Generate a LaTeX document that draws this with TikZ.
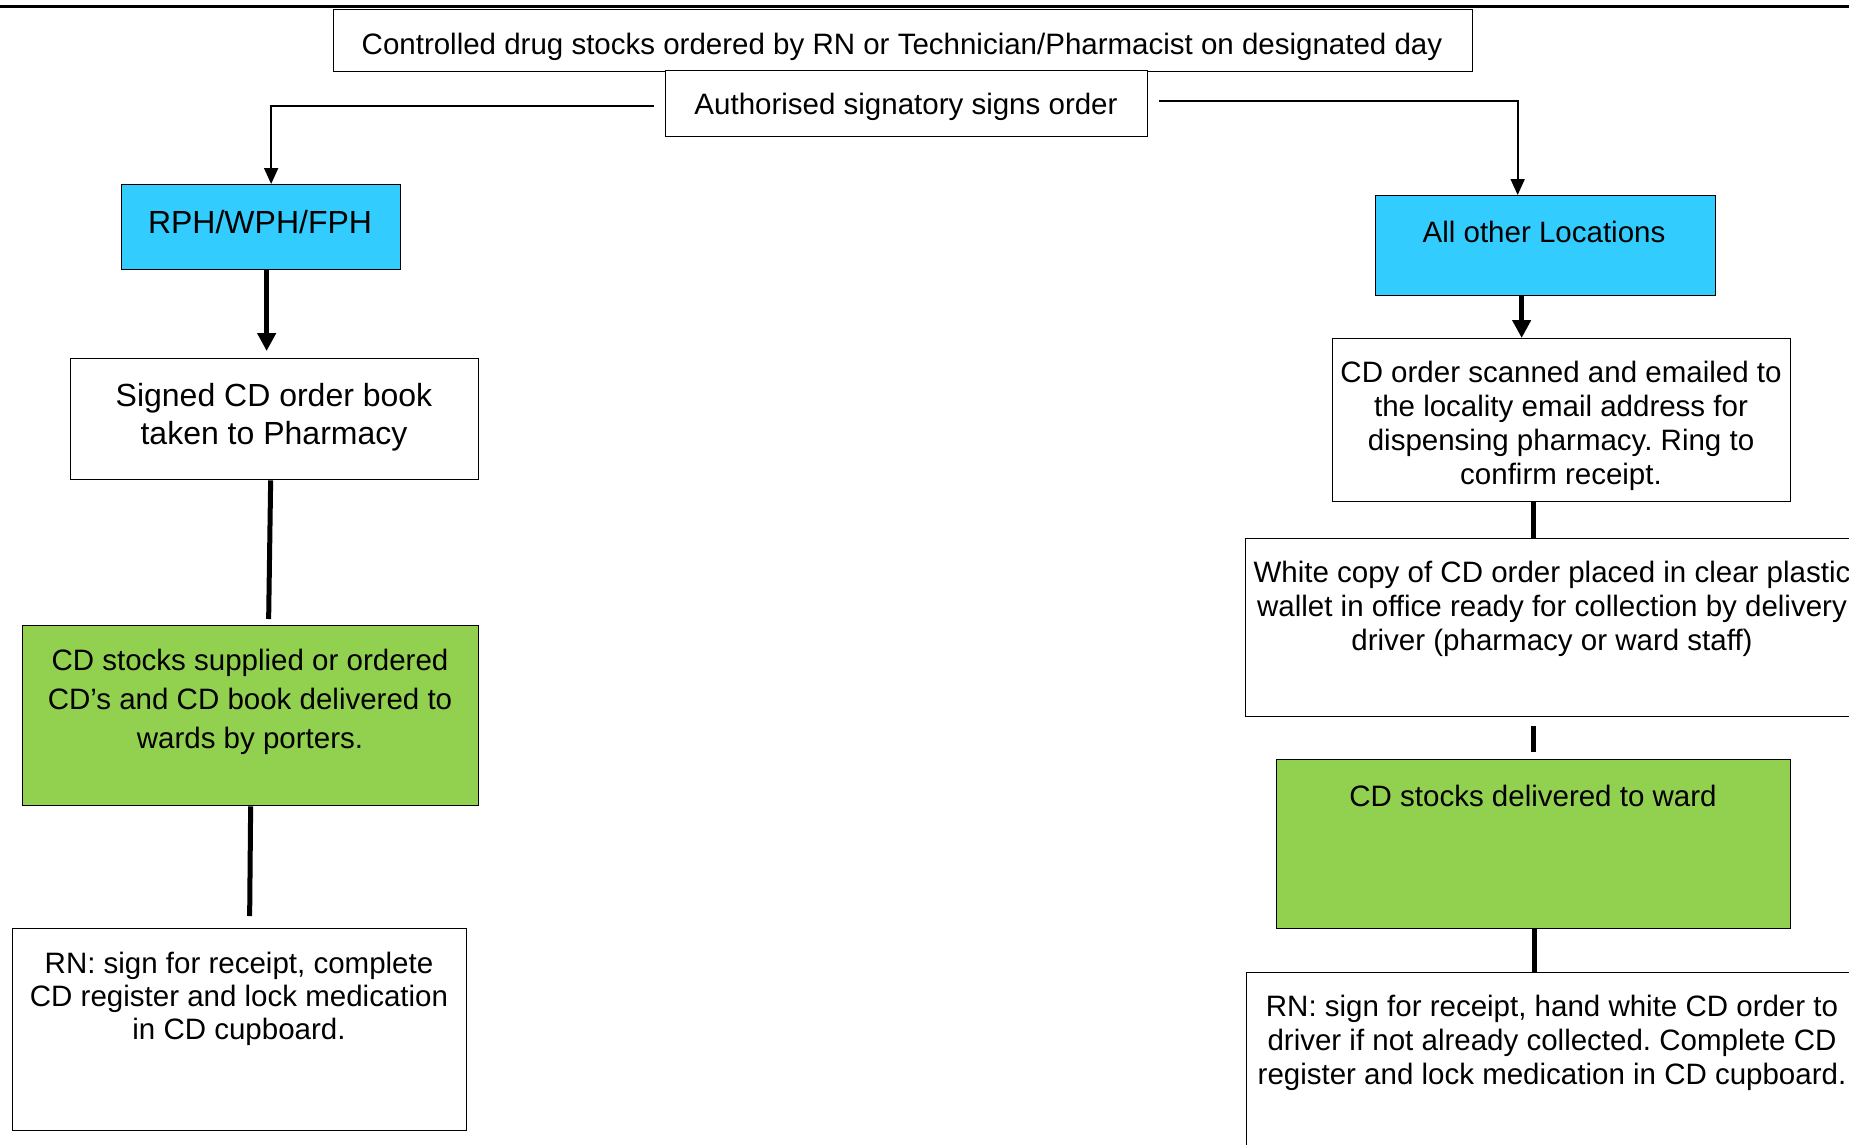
\documentclass[tikz,border=0pt]{standalone}
\usepackage{fontspec}
\setmainfont{Liberation Sans}
\usetikzlibrary{arrows.meta}
\definecolor{boxblue}{HTML}{33CCFF}
\definecolor{boxgreen}{HTML}{92D050}
\frenchspacing
\begin{document}
\begin{tikzpicture}[x=1pt,y=-1pt,
  frame/.style={draw=black, line width=1.3pt, fill=white, inner sep=0pt, anchor=north west},
  bluebox/.style={frame, fill=boxblue},
  greenbox/.style={frame, fill=boxgreen},
  txt/.style={inner sep=0pt, align=center, font=\fontsize{29.5}{34}\selectfont},
  bigtxt/.style={inner sep=0pt, align=center, font=\fontsize{32}{38}\selectfont},
  thinline/.style={draw=black, line width=2pt},
  heavyline/.style={draw=black, line width=5pt},
  thinarrow/.style={thinline, -{Triangle[width=14pt,length=16pt]}},
  heavyarrow/.style={heavyline, -{Triangle[width=18pt,length=18pt]}}
]
\clip (0,0) rectangle (1849,1144);
\fill[white] (0,0) rectangle (1849,1144);

% top rule of the cut-off title
\coordinate (ruleL) at (0,6);
\coordinate (ruleR) at (1849,6);
\draw[line width=3pt] (ruleL) -- (ruleR);

% boxes
\node[frame, minimum width=1139pt, minimum height=62pt] (b1) at (333,9) {};
\node[frame, minimum width=482pt, minimum height=66pt] (b2) at (665,70) {};
\node[bluebox, minimum width=279pt, minimum height=85pt] (rph) at (121,184) {};
\node[frame, minimum width=408pt, minimum height=121pt] (signed) at (70,358) {};
\node[greenbox, minimum width=456pt, minimum height=180pt] (gl) at (22,625) {};
\node[frame, minimum width=454pt, minimum height=202pt] (rnl) at (12,928) {};
\node[bluebox, minimum width=340pt, minimum height=100pt] (aol) at (1375,195) {};
\node[frame, minimum width=458pt, minimum height=163pt] (scan) at (1332,338) {};
\node[frame, minimum width=614pt, minimum height=178pt] (white) at (1245,538) {};
\node[greenbox, minimum width=514pt, minimum height=169pt] (gr) at (1276,759) {};
\node[frame, minimum width=614pt, minimum height=200pt] (rnr) at (1246,972) {};

% texts
\node[txt] (b1t) at (902,47) {Controlled drug stocks ordered by RN or Technician/Pharmacist on designated day};
\node[txt] (b2t) at (906,107) {Authorised signatory signs order};
\node[bigtxt] (rpht) at (260,222) {RPH/WPH/FPH};
\node[bigtxt] (signedt) at (274,417) {Signed CD order book\\taken to Pharmacy};
\node[txt, font=\fontsize{29.5}{39}\selectfont] (glt) at (250,702) {CD stocks supplied or ordered\\CD’s and CD book delivered to\\wards by porters.};
\node[txt, font=\fontsize{29.5}{33}\selectfont] (rnlt) at (239,999) {RN: sign for receipt, complete\\CD register and lock medication\\in CD cupboard.};
\node[txt] (aolt) at (1544,232) {All other Locations};
\node[txt] (scant) at (1561,426) {CD order scanned and emailed to\\the locality email address for\\dispensing pharmacy. Ring to\\confirm receipt.};
\node[txt] (whitet) at (1552,609) {White copy of CD order placed in clear plastic\\wallet in office ready for collection by delivery\\driver (pharmacy or ward staff)};
\node[txt] (grt) at (1533,796) {CD stocks delivered to ward};
\node[txt] (rnrt) at (1552,1043) {RN: sign for receipt, hand white CD order to\\driver if not already collected. Complete CD\\register and lock medication in CD cupboard.};

% connectors
\coordinate (L0) at (654,106);
\coordinate (R0) at (1159,101);
\draw[thinarrow] (L0) -| ([xshift=10pt]rph.north);
\draw[thinarrow] (R0) -| ([xshift=-28pt]aol.north);
\draw[heavyarrow] ([xshift=5.5pt]rph.south) -- ([xshift=-8pt,yshift=7pt]signed.north);
\draw[heavyline] ([xshift=-4pt]signed.south) -- ([xshift=18pt,yshift=6pt]gl.north);
\draw[heavyline] (gl.south) -- ([xshift=10pt,yshift=12pt]rnl.north);
\draw[heavyarrow] ([xshift=-24pt]aol.south) -- ([xshift=-40pt]scan.north);
\draw[heavyline] ([xshift=-28pt]scan.south) -- ([xshift=-19pt]white.north);
\draw[heavyline] ([xshift=-19pt,yshift=-9pt]white.south) -- ([yshift=7pt]gr.north);
\draw[heavyline] ([xshift=1pt]gr.south) -- ([xshift=-19pt]rnr.north);
\end{tikzpicture}
\end{document}
